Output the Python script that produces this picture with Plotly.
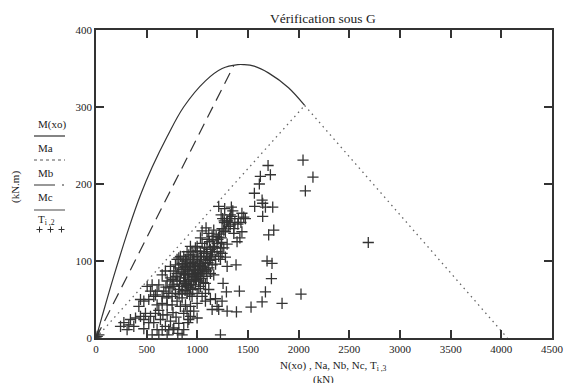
import plotly.graph_objects as go

# ---------------- data ----------------
# M(xo) interaction curve (kN, kN.m)
Mxo_N = [0, 60, 175, 325, 440, 555, 700, 865, 1080, 1245, 1400, 1460, 1560, 1705, 1900, 2059]
Mxo_M = [0, 28, 80, 143, 186, 222, 261, 300, 334, 350, 355, 355, 353, 344, 325, 302]
# Ma line
Ma_N = [0, 1360]
Ma_M = [0, 354]
# Mb line
Mb_N = [0, 2059]
Mb_M = [0, 302]
# Mc line
Mc_N = [2059, 4060]
Mc_M = [302, 0]

# T(i,3) (N, kN) and T(i,2) (M, kN.m) scatter
T_i3 = [0, 12, 28, 242, 275, 307, 324, 340, 373, 390, 423, 439, 439, 472, 472, 472, 488, 505, 521, 521,
        538, 538, 554, 554, 570, 570, 587, 587, 603, 603, 603, 620, 620, 636, 653, 653, 653, 653, 669, 685,
        685, 702, 702, 702, 702, 718, 718, 735, 735, 735, 751, 751, 751, 761, 768, 768, 768, 784, 784, 800,
        800, 800, 800, 807, 817, 817, 817, 817, 833, 833, 833, 850, 850, 850, 850, 850, 866, 866, 866, 866,
        866, 883, 883, 883, 883, 883, 899, 899, 899, 899, 899, 906, 916, 916, 916, 916, 916, 932, 932, 932,
        932, 932, 932, 948, 948, 948, 948, 948, 965, 965, 965, 965, 965, 981, 981, 981, 981, 998, 998, 998,
        998, 998, 998, 998, 1014, 1014, 1014, 1031, 1031, 1031, 1031, 1031, 1047, 1047, 1047, 1047, 1047, 1064, 1064, 1064,
        1080, 1080, 1080, 1080, 1086, 1096, 1096, 1096, 1096, 1113, 1113, 1113, 1129, 1129, 1129, 1129, 1146, 1146, 1146, 1162,
        1162, 1162, 1179, 1179, 1195, 1195, 1195, 1211, 1211, 1211, 1228, 1228, 1228, 1244, 1244, 1244, 1254, 1261, 1261, 1270,
        1277, 1277, 1287, 1294, 1294, 1294, 1310, 1325, 1325, 1336, 1360, 1360, 1382, 1386, 1392, 1400, 1415, 1420, 1440, 1440,
        1458, 1474,
        1530, 1563, 1566, 1612, 1622, 1639, 1639, 1645, 1645, 1672, 1672, 1688, 1698, 1704, 1721, 1731, 1737, 1744, 1754, 1836,
        2023, 2043, 2066, 2141, 2687,
        # additional points of the dense core
        760, 790, 825, 840, 858, 875, 890, 905, 925, 940, 955, 972, 990, 1005, 1022, 1040, 1055, 1072, 1090, 1105,
        1120, 1138, 1155, 1170, 1186, 1203, 1220, 1236, 1250, 1268, 880, 910, 940, 970, 1000, 1030, 1060, 1090, 1120, 1150,
        820, 850, 870, 895, 925, 955, 985, 1015, 1045, 1075, 700, 730, 760, 790, 620, 660, 690, 1180, 1210, 1240,
        1300, 1340, 1370, 1405, 1430, 1350, 1320, 1290, 1265, 1235]
T_i2 = [0, 2, 4, 15, 20, 11, 17, 24, 15, 26, 41, 50, 28, 48, 12, 24, 32, 67, 50, 20,
        28, 61, 4, 69, 54, 20, 32, 56, 11, 61, 43, 69, 4, 24, 11, 82, 54, 45, 61, 87,
        15, 30, 74, 43, 4, 58, 11, 93, 22, 78, 67, 54, 43, 11, 87, 69, 13, 58, 95, 102,
        84, 74, 48, 6, 91, 63, 104, 19, 106, 78, 41, 97, 67, 89, 52, 4, 106, 82, 74, 32,
        11, 102, 71, 93, 82, 43, 112, 89, 58, 35, 97, 20, 108, 76, 87, 69, 24, 119, 95, 65,
        41, 104, 28, 112, 80, 54, 93, 82, 108, 102, 89, 74, 35, 117, 84, 69, 93, 106, 97, 58,
        45, 119, 26, 113, 89, 82, 74, 112, 80, 67, 130, 106, 93, 54, 87, 123, 139, 110, 84, 102,
        97, 71, 58, 48, 143, 117, 80, 106, 128, 91, 63, 136, 115, 84, 104, 50, 95, 37, 132, 119,
        82, 140, 102, 51, 112, 41, 123, 106, 37, 171, 102, 117, 4, 110, 48, 142, 71, 117, 140, 168,
        105, 138, 60, 93, 35, 122, 145, 147, 160, 170, 136, 142, 95, 34, 125, 148, 61, 130, 162, 138,
        157, 155,
        40, 188, 171, 200, 210, 179, 47, 175, 158, 170, 60, 100, 224, 134, 212, 77, 97, 170, 140, 45,
        57, 231, 191, 209, 124,
        76, 80, 70, 86, 95, 78, 100, 84, 92, 73, 98, 88, 76, 100, 96, 105, 91, 118, 110, 98,
        125, 108, 127, 117, 132, 128, 135, 130, 155, 150, 62, 66, 70, 79, 85, 94, 72, 87, 101, 112,
        57, 60, 92, 68, 56, 63, 82, 64, 77, 89, 52, 65, 33, 27, 36, 30, 66, 96, 131, 124,
        152, 158, 150, 155, 150, 165, 155, 150, 152, 160]

# axis ticks
x_ticks = [0, 500, 1000, 1500, 2000, 2500, 3000, 3500, 4000, 4500]
y_ticks = [0, 100, 200, 300, 400]

title_text = "Vérification sous G"
x_title = "N(xo) , Na, Nb, Nc, T<sub>i ,3</sub>"
x_unit = "(kN)"
y_title = "(kN.m)"

# ---------------- layout geometry (pixels) ----------------
W, H = 564, 383
ML, MR, MT, MB = 96, 12, 30, 45
PW, PH = W - ML - MR, H - MT - MB
FONT = "Liberation Serif, Times New Roman, serif"
INK = "#333333"


def px(x, y):
    """page pixel -> paper coordinates"""
    return (x - ML) / PW, (H - MB - y) / PH


fig = go.Figure()

fig.add_trace(go.Scatter(x=Mxo_N, y=Mxo_M, mode="lines", line=dict(color=INK, width=1.2, shape="spline"),
                         showlegend=False))
fig.add_trace(go.Scatter(x=Ma_N, y=Ma_M, mode="lines", line=dict(color=INK, width=1.2, dash="12px,7px"),
                         showlegend=False))
fig.add_trace(go.Scatter(x=Mb_N, y=Mb_M, mode="lines", line=dict(color="#666666", width=1.3, dash="1.5px,4px"),
                         showlegend=False))
fig.add_trace(go.Scatter(x=Mc_N, y=Mc_M, mode="lines", line=dict(color="#666666", width=1.3, dash="1.5px,4px"),
                         showlegend=False))
fig.add_trace(go.Scatter(x=T_i3, y=T_i2, mode="markers",
                         marker=dict(symbol="cross-thin", size=8, line=dict(color=INK, width=1.3)),
                         showlegend=False))

axis_common = dict(showgrid=False, zeroline=False, showline=True, linecolor=INK, linewidth=1.5,
                   mirror="ticks", ticks="inside", ticklen=8, tickwidth=1.5, tickcolor=INK, automargin=False,
                   ticklabeloverflow="allow",
                   tickfont=dict(family=FONT, size=11, color="#222222"))
fig.update_xaxes(range=[0, 4500], tickvals=x_ticks, ticktext=[str(v) for v in x_ticks], **axis_common)
fig.update_yaxes(range=[0, 400], tickvals=y_ticks, ticktext=[str(v) for v in y_ticks], **axis_common)

annotations = []
shapes = []


def text(x, y, s, size=11, xanchor="center", angle=0, color="#222222"):
    ax, ay = px(x, y)
    annotations.append(dict(x=ax, y=ay, xref="paper", yref="paper", text=s, showarrow=False,
                            xanchor=xanchor, yanchor="middle", textangle=angle,
                            font=dict(family=FONT, size=size, color=color)))


def seg(x0, y0, x1, y1, dash="solid", width=1.2, color=INK):
    a0, b0 = px(x0, y0)
    a1, b1 = px(x1, y1)
    shapes.append(dict(type="line", xref="paper", yref="paper", x0=a0, x1=a1, y0=b0, y1=b1,
                       line=dict(color=color, width=width, dash=dash)))


def hline(x0, x1, y, **kw):
    seg(x0, y, x1, y, **kw)


text(323, 19, title_text, size=13.5)
text(333, 366, x_title, size=11)
text(323, 380, x_unit, size=11)
text(15, 187, y_title, size=11, angle=-90)

# legend replica
text(36, 124, "M(xo)", xanchor="left")
hline(34, 65, 136)
text(36, 148, "Ma", xanchor="left")
hline(34, 65, 160, dash="3px,3px", width=1, color="#555555")
text(36, 173, "Mb", xanchor="left")
hline(34, 65, 185, dash="21px,7px,2px,10px")
text(36, 197, "Mc", xanchor="left")
hline(34, 65, 210, color="#666666")
text(36, 220, "T<sub>i ,2</sub>", xanchor="left")
for cx in (39.5, 50.5, 61.5):
    seg(cx - 3, 229.5, cx + 3, 229.5, width=1)
    seg(cx, 226.5, cx, 232.5, width=1)

fig.update_layout(width=W, height=H, margin=dict(l=ML, r=MR, t=MT, b=MB, autoexpand=False),
                  paper_bgcolor="white", plot_bgcolor="white", showlegend=False,
                  annotations=annotations, shapes=shapes)

fig.write_html("out.html", config={"displayModeBar": False},
               post_script="document.body.style.margin='0';document.body.style.overflow='hidden';")
